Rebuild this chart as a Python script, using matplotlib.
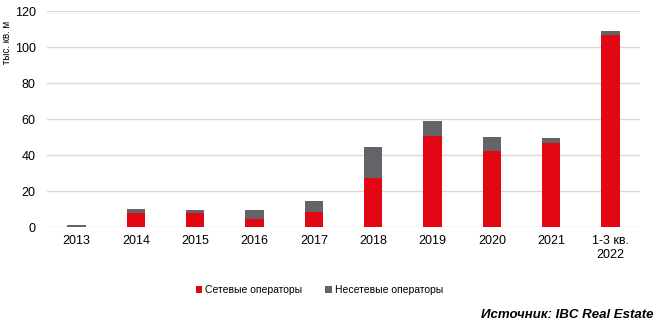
import matplotlib.pyplot as plt
import numpy as np

plt.rcParams['font.family'] = ['Liberation Sans', 'DejaVu Sans']

years = ["2013", "2014", "2015", "2016", "2017", "2018", "2019", "2020", "2021", "1-3 кв.\n2022"]
chain = [0.0, 8.0, 8.0, 4.5, 8.6, 27.4, 50.7, 42.2, 46.7, 106.9]
total = [1.1, 10.1, 9.2, 9.2, 14.2, 44.6, 58.9, 50.2, 49.6, 109.1]
non_chain = [t - c for t, c in zip(total, chain)]

RED = "#E30613"
GRAY = "#636368"

fig = plt.figure(figsize=(6.6, 3.25), dpi=100)
ax = fig.add_axes([0.071, 0.3015, 0.899, 0.6645])

x = np.arange(len(years))
ax.bar(x, chain, width=0.31, color=RED, label="Сетевые операторы", zorder=3)
ax.bar(x, non_chain, width=0.31, bottom=chain, color=GRAY, label="Несетевые операторы", zorder=3)

ax.set_xlim(-0.5, len(years) - 0.5)
ax.set_ylim(0, 120)
ax.set_yticks(range(0, 121, 20))
ax.set_xticks(x)
ax.set_xticklabels(years, fontsize=9)
ax.tick_params(axis='y', labelsize=9, length=0, pad=8)
ax.tick_params(axis='x', length=0, pad=6)
ax.grid(axis='y', color="#d9d9d9", linewidth=1, zorder=0)
for s in ax.spines.values():
    s.set_visible(False)

ax.set_ylabel("тыс. кв. м", fontsize=7, labelpad=10)
ax.yaxis.set_label_coords(-0.058, 0.855)

fig.legend(loc='center', bbox_to_anchor=(0.484, 0.108), ncol=2, frameon=False,
           fontsize=7.5, handlelength=0.6, handleheight=0.6, handletextpad=0.3,
           columnspacing=2.2)

fig.text(0.99, 0.012, "Источник: IBC Real Estate", ha='right', va='bottom',
         fontsize=9.5, fontweight='bold', fontstyle='italic')

fig.savefig("out.png", dpi=100)
